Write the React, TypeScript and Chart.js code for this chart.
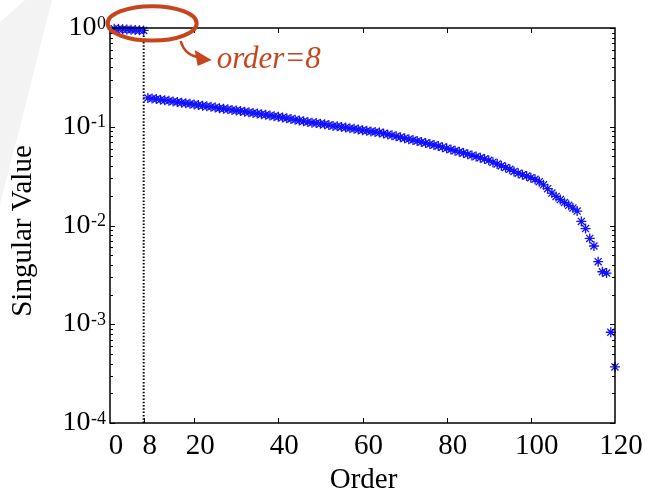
import React, { useEffect, useRef } from "react";
import { Chart, registerables } from "chart.js";

Chart.register(...registerables);

// ---- data ----
const orders = Array.from({ length: 120 }, (_, i) => i + 1);
const singularValues = [
  0.985, 0.975, 0.97, 0.965, 0.96, 0.955, 0.95, 0.945,
  0.196, 0.193, 0.191, 0.188, 0.185, 0.183, 0.18, 0.178, 0.175, 0.173, 0.171, 0.168,
  0.166, 0.163, 0.161, 0.159, 0.157, 0.154, 0.152, 0.15, 0.148, 0.146,
  0.144, 0.142, 0.14, 0.138, 0.136, 0.134, 0.132, 0.13, 0.128, 0.126,
  0.124, 0.122, 0.12, 0.118, 0.116, 0.114, 0.112, 0.11, 0.109, 0.107,
  0.106, 0.104, 0.102, 0.101, 0.0995, 0.098, 0.0966, 0.0952, 0.0938, 0.0924,
  0.091, 0.0896, 0.0884, 0.0873, 0.0855, 0.0836, 0.0818, 0.08, 0.0782, 0.0765,
  0.0749, 0.0733, 0.0717, 0.07, 0.0684, 0.0668, 0.0653, 0.0638, 0.0621, 0.0604,
  0.0588, 0.0572, 0.0557, 0.0542, 0.0527, 0.0513, 0.0499, 0.0485, 0.0471, 0.0457,
  0.0438, 0.042, 0.0403, 0.0387, 0.0371, 0.0353, 0.0338, 0.0326, 0.0317, 0.0305,
  0.0294, 0.0278, 0.0258, 0.0236, 0.0213, 0.0197, 0.0183, 0.0171, 0.016, 0.015,
  0.014, 0.011, 0.0093, 0.0074, 0.0062, 0.0043, 0.0034, 0.0033, 0.00083, 0.00037,
];
const cutoffOrder = 8;
const xTickValues = [0, 8, 20, 40, 60, 80, 100, 120];
const yTickExponents = [0, -1, -2, -3, -4];
const xTitle = "Order";
const yTitle = "Singular Value";
const annotationText = "order=8";

const ACCENT = "#C8441C";
const SERIF = '"Liberation Serif", "Times New Roman", serif';

const decorPlugin: any = {
  id: "decor",
  beforeDraw(chart: any) {
    // faint background watermark band (top-left)
    const { ctx } = chart;
    ctx.save();
    ctx.fillStyle = "#f3f3f3";
    ctx.beginPath();
    ctx.moveTo(25, 0);
    ctx.lineTo(52, 0);
    ctx.lineTo(0, 205);
    ctx.lineTo(0, 22);
    ctx.closePath();
    ctx.fill();
    ctx.restore();
  },
  afterDraw(chart: any) {
    const { ctx, chartArea: a, scales } = chart;
    const xs = scales.x;
    const ys = scales.y;
    ctx.save();

    // axes box
    ctx.strokeStyle = "#000";
    ctx.lineWidth = 1.5;
    ctx.strokeRect(a.left, a.top, a.right - a.left, a.bottom - a.top);

    // inward ticks
    ctx.lineWidth = 1;
    ctx.beginPath();
    for (const v of xTickValues) {
      if (v <= xs.min || v >= xs.max) continue;
      const px = Math.round(xs.getPixelForValue(v)) + 0.5;
      ctx.moveTo(px, a.bottom);
      ctx.lineTo(px, a.bottom - 5);
      ctx.moveTo(px, a.top);
      ctx.lineTo(px, a.top + 5);
    }
    for (const e of yTickExponents) {
      for (let m = 1; m <= 9; m++) {
        const v = m * Math.pow(10, e);
        if (v > 1.000001) continue;
        const py = Math.round(ys.getPixelForValue(v)) + 0.5;
        const len = m === 1 ? 5 : 3;
        ctx.moveTo(a.left, py);
        ctx.lineTo(a.left + len, py);
        ctx.moveTo(a.right, py);
        ctx.lineTo(a.right - len, py);
      }
    }
    ctx.stroke();

    // y tick labels with superscripts
    ctx.fillStyle = "#000";
    ctx.textBaseline = "alphabetic";
    ctx.textAlign = "right";
    for (const e of yTickExponents) {
      const py = ys.getPixelForValue(Math.pow(10, e));
      const sup = String(e);
      ctx.font = `18px ${SERIF}`;
      const sw = ctx.measureText(sup).width;
      ctx.fillText(sup, a.left - 4, py + 0.5);
      ctx.font = `28px ${SERIF}`;
      ctx.fillText("10", a.left - 4 - sw - 0.5, py + 7);
    }

    // axis titles
    ctx.font = `29px ${SERIF}`;
    ctx.textAlign = "center";
    ctx.fillText(xTitle, (a.left + a.right) / 2 + 1, 488);
    ctx.save();
    ctx.translate(31, 231);
    ctx.rotate(-Math.PI / 2);
    ctx.fillText(yTitle, 0, 0);
    ctx.restore();

    // annotation: ellipse, arrow, text
    const ax = xs.getPixelForValue(cutoffOrder);
    const ay = ys.getPixelForValue(1);
    ctx.strokeStyle = ACCENT;
    ctx.fillStyle = ACCENT;
    ctx.lineWidth = 4;
    ctx.beginPath();
    ctx.ellipse(ax + 8.5, ay - 4.6, 44.5, 17.2, 0, 0, Math.PI * 2);
    ctx.stroke();

    ctx.lineWidth = 2.5;
    ctx.beginPath();
    ctx.moveTo(ax + 37, ay + 13);
    ctx.quadraticCurveTo(ax + 41, ay + 27, ax + 54, ay + 29);
    ctx.stroke();
    ctx.beginPath();
    ctx.moveTo(ax + 68, ay + 32);
    ctx.lineTo(ax + 51, ay + 22);
    ctx.lineTo(ax + 54, ay + 38);
    ctx.closePath();
    ctx.fill();

    ctx.font = `italic 31px ${SERIF}`;
    ctx.textAlign = "left";
    ctx.fillText(annotationText, ax + 73, ay + 40);

    ctx.restore();
  },
};

export default function App() {
  const ref = useRef<HTMLCanvasElement>(null);
  useEffect(() => {
    document.body.style.margin = "0";
    const chart = new Chart(ref.current as HTMLCanvasElement, {
      type: "scatter",
      data: {
        datasets: [
          {
            data: orders.map((o, i) => ({ x: o, y: singularValues[i] })),
            pointStyle: "star",
            pointRadius: 5,
            pointBorderWidth: 1.3,
            borderColor: "#1010FF",
            backgroundColor: "#1010FF",
            showLine: false,
            clip: false,
          } as any,
          {
            data: [
              { x: cutoffOrder, y: 1e-4 },
              { x: cutoffOrder, y: 1 },
            ],
            showLine: true,
            borderColor: "#000",
            borderWidth: 2,
            borderDash: [1.5, 1.8],
            pointRadius: 0,
          } as any,
        ],
      },
      options: {
        responsive: false,
        animation: false,
        events: [],
        layout: { padding: { top: 28, right: 34, left: 0, bottom: 0 } },
        plugins: { legend: { display: false }, tooltip: { enabled: false } },
        scales: {
          x: {
            type: "linear",
            position: "bottom",
            min: 0,
            max: 120,
            grid: { display: false, drawTicks: false },
            border: { display: false },
            ticks: {
              color: "#000",
              font: { family: "Liberation Serif", size: 29 },
              padding: 6,
              labelOffset: 6,
              maxRotation: 0,
              autoSkip: false,
              callback: (v: any) => String(v),
            },
            afterBuildTicks: (s: any) => {
              s.ticks = xTickValues.map((v) => ({ value: v }));
            },
            afterFit: (s: any) => {
              s.height = 72;
            },
          },
          y: {
            type: "logarithmic",
            min: 1e-4,
            max: 1,
            grid: { display: false, drawTicks: false },
            border: { display: false },
            ticks: { display: false },
            afterFit: (s: any) => {
              s.width = 110;
            },
          },
        },
      } as any,
      plugins: [decorPlugin],
    });
    return () => chart.destroy();
  }, []);
  return (
    <canvas
      ref={ref}
      width={649}
      height={495}
      style={{ display: "block", width: 649, height: 495 }}
    />
  );
}
